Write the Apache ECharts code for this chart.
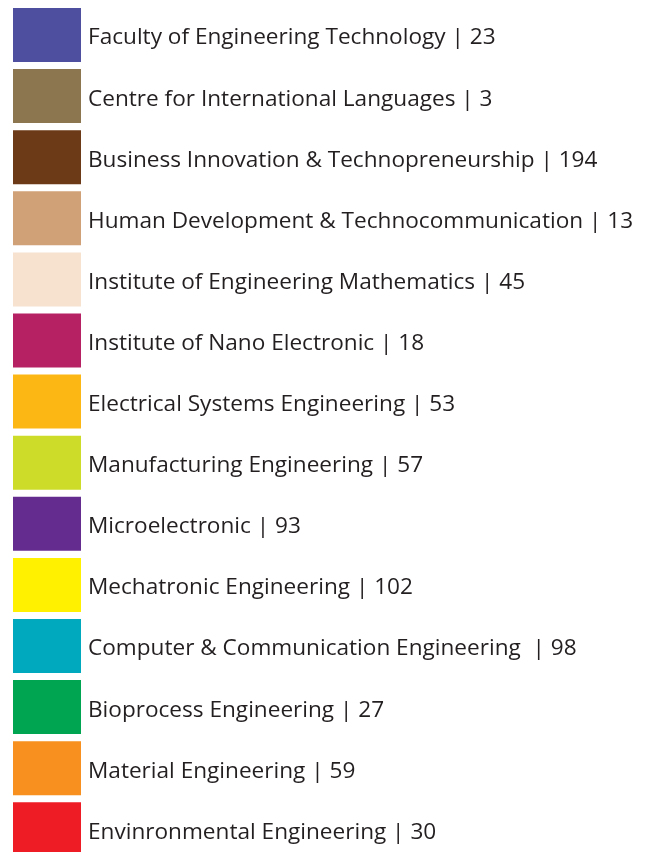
<!DOCTYPE html>
<html>
<head>
<meta charset="utf-8">
<script src="https://cdn.jsdelivr.net/npm/echarts@6/dist/echarts.min.js"></script>
<style>
html,body{margin:0;padding:0;background:#fff;}
#main{width:650px;height:852px;}
</style>
</head>
<body>
<div id="main"></div>
<script>
// faculties and student counts
var names = [
	'Faculty of Engineering Technology',
	'Centre for International Languages',
	'Business Innovation & Technopreneurship',
	'Human Development & Technocommunication',
	'Institute of Engineering Mathematics',
	'Institute of Nano Electronic',
	'Electrical Systems Engineering',
	'Manufacturing Engineering',
	'Microelectronic',
	'Mechatronic Engineering',
	'Computer & Communication Engineering ',
	'Bioprocess Engineering',
	'Material Engineering',
	'Envinronmental Engineering'
];
var values = [23, 3, 194, 13, 45, 18, 53, 57, 93, 102, 98, 27, 59, 30];
var colors = ['#4f4fa0', '#8c7650', '#6d3a17', '#d0a077', '#f7e1cf', '#b52163',
	'#fdb715', '#cddc29', '#652c90', '#fff100', '#00a9be', '#00a551', '#f7901e', '#ee1c25'];

var pieData = [];
for (var i = 0; i < names.length; i++) {
	pieData.push({ name: names[i], value: values[i], itemStyle: { color: colors[i] } });
}

var chart = echarts.init(document.getElementById('main'));
chart.setOption({
	animation: false,
	legend: {
		orient: 'vertical',
		left: 13,
		top: 8,
		height: 1200,
		padding: 0,
		itemWidth: 68,
		itemHeight: 54,
		itemGap: 7.1,
		icon: 'rect',
		selectedMode: false,
		formatter: function (name) {
			var idx = names.indexOf(name);
			return '{t|' + name + ' | ' + values[idx] + '}';
		},
		textStyle: {
			fontFamily: 'Open Sans',
			fontSize: 22.6,
			color: '#231f20',
			rich: {
				t: {
					fontFamily: 'Open Sans',
					fontSize: 22.6,
					color: '#231f20',
					padding: [6, 0, 0, 2]
				}
			}
		}
	},
	series: [{
		type: 'pie',
		center: [-200, -200],
		radius: 10,
		silent: true,
		label: { show: false },
		data: pieData
	}]
});
</script>
</body>
</html>
